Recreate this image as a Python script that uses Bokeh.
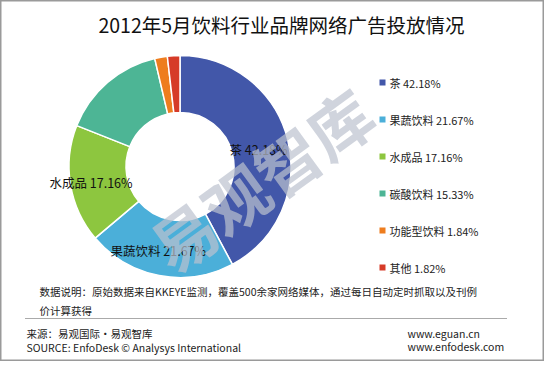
import math
from bokeh.plotting import figure
from bokeh.models import Range1d, ColumnDataSource
from bokeh.core.properties import value
from bokeh.embed import file_html
from bokeh.resources import INLINE

categories = ["茶", "果蔬饮料", "水成品", "碳酸饮料", "功能型饮料", "其他"]
shares = [42.18, 21.67, 17.16, 15.33, 1.84, 1.82]
colors = ["#4257A9", "#4BAFD9", "#8DC63F", "#4DB595", "#EE7D1E", "#D63B28"]
title_text = "2012年5月饮料行业品牌网络广告投放情况"
note_lines = ["数据说明：原始数据来自KKEYE监测，覆盖500余家网络媒体，通过每日自动定时抓取以及刊例", "价计算获得"]
source_lines = ["来源：易观国际·易观智库", "SOURCE: EnfoDesk © Analysys International"]
site_lines = ["www.eguan.cn", "www.enfodesk.com"]
slice_labels = [0, 1, 2]  # slices labelled on the donut

H = 377
def Y(y):
    return H - y

FONT = value("Noto Sans CJK SC")

p = figure(width=544, height=361, output_backend="svg", toolbar_location=None,
           x_range=Range1d(8, 552), y_range=Range1d(Y(369), Y(8)),
           min_border=0)
p.axis.visible = False
p.grid.visible = False
p.outline_line_color = "#9a9a9a"
p.outline_line_width = 2
p.background_fill_color = "white"

# donut
cx, cy = 187.5, Y(174)
total = sum(shares)
starts, ends = [], []
cum = 0.0
for s in shares:
    starts.append(math.pi / 2 - 2 * math.pi * cum / total)
    cum += s
    ends.append(math.pi / 2 - 2 * math.pi * cum / total)
src = ColumnDataSource(dict(start=starts, end=ends, color=colors))
p.annular_wedge(x=cx, y=cy, inner_radius=54, outer_radius=111,
                start_angle="start", end_angle="end", direction="clock",
                fill_color="color", line_color="white", line_width=1.5, source=src)

# labels on donut
lab_pos = {0: (237, Y(157)), 1: (118, Y(258)), 2: (57, Y(190))}
for i in slice_labels:
    x, y = lab_pos[i]
    p.text(x=[x], y=[y], text=[f"{categories[i]} {shares[i]:.2f}%"],
           text_font=FONT, text_font_size="12.5px", text_color="#111111",
           text_align="left", text_baseline="middle")

# watermark
p.text(x=[268], y=[Y(186)], text=["易观智库"], angle=math.radians(36),
       text_font=FONT, text_font_size="64px", text_font_style="bold",
       text_color="#BCC2CF", text_alpha=0.7, text_align="center",
       text_baseline="middle")

# legend
leg_y = [90, 127, 164, 201, 238, 275]
p.rect(x=[390] * 6, y=[Y(v) for v in leg_y], width=6, height=6,
       fill_color=colors, line_color=None)
p.text(x=[397] * 6, y=[Y(v) for v in leg_y],
       text=[f"{c} {s:.2f}%" for c, s in zip(categories, shares)],
       text_font=FONT, text_font_size="11px", text_color="#222222",
       text_align="left", text_baseline="middle")

# title
p.text(x=[289], y=[Y(32)], text=[title_text], text_font=FONT,
       text_font_size="19.5px", text_color="#111111", text_align="center",
       text_baseline="middle")

# notes
p.text(x=[47, 47], y=[Y(299), Y(318)], text=note_lines, text_font=FONT,
       text_font_size="10.5px", text_color="#222222", text_align="left",
       text_baseline="middle")
p.line(x=[33, 515], y=[Y(326), Y(326)], line_color="#555555",
       line_dash="1 1", line_width=1)
p.text(x=[34, 34], y=[Y(341), Y(355)], text=source_lines, text_font=FONT,
       text_font_size="10.5px", text_color="#222222", text_align="left",
       text_baseline="middle")
p.text(x=[415, 415], y=[Y(341), Y(354)], text=site_lines, text_font=FONT,
       text_font_size="10.5px", text_color="#222222", text_align="left",
       text_baseline="middle")

open("out.html", "w").write(file_html(p, INLINE))
